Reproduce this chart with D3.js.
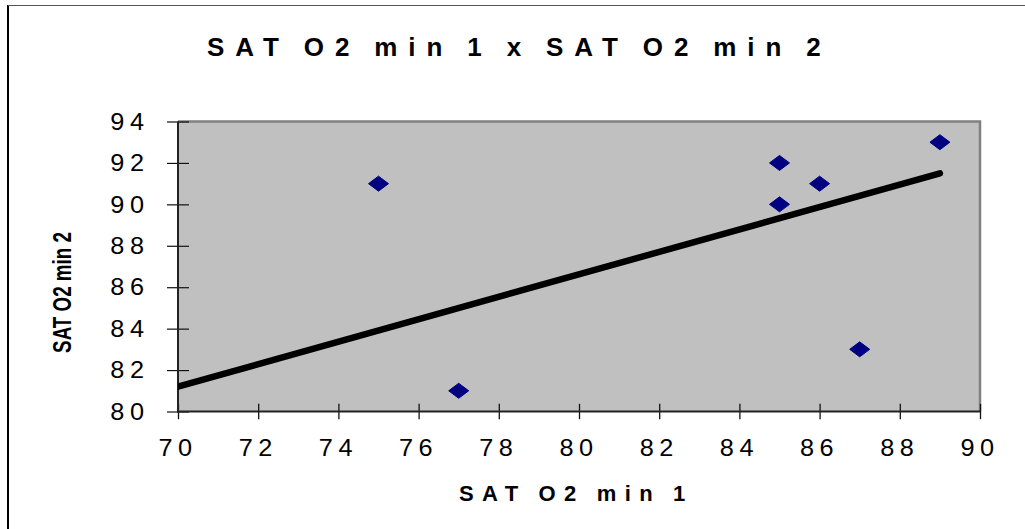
<!DOCTYPE html>
<html>
<head>
<meta charset="utf-8">
<script src="https://cdn.jsdelivr.net/npm/d3@7/dist/d3.min.js"></script>
<style>
  html, body { margin: 0; padding: 0; background: #fff; }
  svg { display: block; }
  text { font-family: "Liberation Sans", Arial, sans-serif; fill: #000; }
</style>
</head>
<body>
<svg id="chart" width="1025" height="529"></svg>
<script>
// Oxygen saturation readings: minute 1 (x) against minute 2 (y)
const satMin1 = [75, 77, 85, 85, 86, 87, 89];
const satMin2 = [91, 81, 92, 90, 91, 83, 93];

// Linear trend line end points
const trendX = [70, 89];
const trendY = [81.2, 91.5];

// Axis ticks
const xTicks = [70, 72, 74, 76, 78, 80, 82, 84, 86, 88, 90];
const yTicks = [80, 82, 84, 86, 88, 90, 92, 94];

const chartTitle = "SAT O2 min 1 x SAT O2 min 2";
const xTitle = "SAT O2 min 1";
const yTitle = "SAT O2 min 2";

const svg = d3.select("#chart");

const plot = { left: 178, right: 980, top: 121.5, bottom: 411.5 };

const x = d3.scaleLinear().domain([70, 90]).range([plot.left, plot.right]);
const y = d3.scaleLinear().domain([80, 94]).range([plot.bottom, plot.top]);

// Text helper: places a label with optional rotation and glyph stretching
function label(parent, px, py, str, o) {
  const g = parent.append("g")
    .attr("transform", `translate(${px},${py})` + (o.rotate ? ` rotate(${o.rotate})` : ""));
  return g.append("text")
    .attr("transform", `scale(${o.sx || 1},${o.sy || 1})`)
    .attr("text-anchor", o.anchor || "start")
    .attr("font-size", o.size)
    .attr("font-weight", o.weight || "normal")
    .attr("letter-spacing", o.ls || 0)
    .attr("word-spacing", o.ws || 0)
    .text(str);
}

// Outer chart frame
svg.append("line").attr("x1", 8).attr("x2", 8).attr("y1", 5).attr("y2", 529)
  .attr("stroke", "#000").attr("stroke-width", 2);
svg.append("line").attr("x1", 8).attr("x2", 1025).attr("y1", 5.5).attr("y2", 5.5)
  .attr("stroke", "#555").attr("stroke-width", 1);

// Plot area
svg.append("rect")
  .attr("x", plot.left).attr("y", plot.top)
  .attr("width", plot.right - plot.left).attr("height", plot.bottom - plot.top)
  .attr("fill", "#C0C0C0");
svg.append("path")
  .attr("d", `M${plot.left},${plot.top}H${plot.right}V${plot.bottom}`)
  .attr("fill", "none").attr("stroke", "#808080").attr("stroke-width", 2.5);

svg.append("clipPath").attr("id", "plotClip")
  .append("rect")
  .attr("x", plot.left).attr("y", plot.top - 10)
  .attr("width", plot.right - plot.left).attr("height", plot.bottom - plot.top + 10);

// Axes: ticks cross the axis line
const xAxis = d3.axisBottom(x).tickValues(xTicks).tickSize(7.7).tickFormat("");
const gx = svg.append("g").attr("transform", `translate(0,${plot.bottom})`).call(xAxis);
gx.select(".domain").remove();
gx.selectAll(".tick line").attr("y1", -7.7).attr("stroke", "#111").attr("stroke-width", 1.3);

const yAxis = d3.axisLeft(y).tickValues(yTicks).tickSize(11).tickFormat("");
const gy = svg.append("g").attr("transform", `translate(${plot.left},0)`).call(yAxis);
gy.select(".domain").remove();
gy.selectAll(".tick line").attr("x1", 11).attr("stroke", "#111").attr("stroke-width", 1.2);

svg.append("line")
  .attr("x1", plot.left).attr("x2", plot.left).attr("y1", plot.top).attr("y2", plot.bottom + 1)
  .attr("stroke", "#222").attr("stroke-width", 2);
svg.append("line")
  .attr("x1", plot.left - 1).attr("x2", plot.right).attr("y1", plot.bottom).attr("y2", plot.bottom)
  .attr("stroke", "#222").attr("stroke-width", 2);

// Tick labels
xTicks.forEach(v => {
  label(svg, x(v), 456, String(v), { size: 23, sx: 1.1, ls: 5, anchor: "middle" });
});
yTicks.forEach(v => {
  label(svg, 149.5, y(v) + 8.2, String(v), { size: 23, sx: 1.1, ls: 5, anchor: "end" });
});

// Trend line
const trend = trendX.map((v, i) => [v, trendY[i]]);
svg.append("path")
  .attr("clip-path", "url(#plotClip)")
  .attr("d", d3.line().x(d => x(d[0])).y(d => y(d[1]))(trend))
  .attr("fill", "none").attr("stroke", "#000").attr("stroke-width", 6.5)
  .attr("stroke-linecap", "round");

// Diamond markers
const diamond = "M0,-7.5L10,0L0,7.5L-10,0Z";
svg.append("g").selectAll("path")
  .data(satMin1.map((v, i) => [v, satMin2[i]]))
  .join("path")
  .attr("d", diamond)
  .attr("transform", d => `translate(${x(d[0])},${y(d[1])})`)
  .attr("fill", "#000080").attr("stroke", "#000080").attr("stroke-width", 1)
  .attr("stroke-linejoin", "round");

// Titles
label(svg, 207, 56, chartTitle, { size: 26, weight: "bold", ls: 10.9, ws: -4.1 });
label(svg, 459, 501, xTitle, { size: 22, weight: "bold", ls: 8.4, ws: -2.5 });
label(svg, 71, 292.5, yTitle, { size: 18.8, weight: "bold", sy: 1.4, rotate: -90, anchor: "middle" });
</script>
</body>
</html>
